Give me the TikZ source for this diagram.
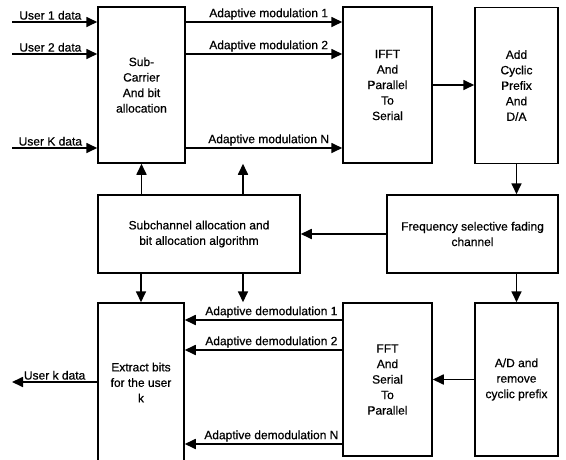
\documentclass[tikz,border=0pt]{standalone}
\usepackage{fontspec}
\setmainfont[FakeBold=0.6]{Liberation Sans}
\usetikzlibrary{arrows.meta,positioning}

\begin{document}
\begin{tikzpicture}[
    x=1pt, y=-1pt,
    font=\fontsize{12}{15.5}\selectfont,
    >={Triangle[length=11pt,width=10pt]},
    blockNode/.style={
        rectangle, draw, line width=1.5pt,
        inner sep=2pt, align=center
    },
    tallNode/.style={blockNode, minimum height=156pt},
    wideNode/.style={blockNode, minimum height=78pt},
    flow/.style={->, line width=1.7pt},
    tag/.style={above, inner sep=1.5pt}
]

% Page frame in pixels of the reference (y grows downwards).
\clip (0,0) rectangle (566,459);

\node[tallNode, minimum width=87pt] (SubCarrier) at (141.5,85)
  {Sub-\\Carrier\\And bit\\allocation};
\node[tallNode, minimum width=89pt] (IFFT) at (387.5,85)
  {IFFT\\And\\Parallel\\To\\Serial};
\node[tallNode, minimum width=83pt] (AddCP) at (516.5,85.5)
  {Add\\Cyclic\\Prefix\\And\\D/A};

\node[wideNode, minimum width=202pt] (Allocator) at (199,234)
  {Subchannel allocation and\\bit allocation algorithm};
\node[wideNode, minimum width=171pt] (Channel) at (472.5,234)
  {Frequency selective fading\\channel};

\node[tallNode, minimum width=86pt, minimum height=159pt] (Extract) at (141,382.5)
  {Extract bits\\for the user\\k};
\node[tallNode, minimum width=89pt, minimum height=153pt] (FFT) at (387.5,379.5)
  {FFT\\And\\Serial\\To\\Parallel};
\node[tallNode, minimum width=83pt, minimum height=153pt] (RemoveCP) at (516.5,379.5)
  {A/D and\\remove\\cyclic prefix};

\coordinate (UserOne) at (12,22);
\coordinate (UserTwo) at (12,54);
\coordinate (UserK) at (12,148);
\coordinate (UserOut) at (12,382);
\coordinate (DemodOne) at (0,320);
\coordinate (DemodTwo) at (0,350);
\coordinate (DemodN) at (0,444);
\coordinate (SideTap) at (243,0);

\draw[flow] (UserOne) -- (UserOne -| SubCarrier.west) node[tag, pos=0.45] {User 1 data};
\draw[flow] (UserTwo) -- (UserTwo -| SubCarrier.west) node[tag, pos=0.45] {User 2 data};
\draw[flow] (UserK) -- (UserK -| SubCarrier.west) node[tag, pos=0.45] {User K data};

\draw[flow] (SubCarrier.east |- UserOne) -- (IFFT.west |- UserOne)
  node[tag, pos=0.53] {Adaptive modulation 1};
\draw[flow] (SubCarrier.east |- UserTwo) -- (IFFT.west |- UserTwo)
  node[tag, pos=0.53] {Adaptive modulation 2};
\draw[flow] (SubCarrier.east |- UserK) -- (IFFT.west |- UserK)
  node[tag, pos=0.53] {Adaptive modulation N};

\draw[flow] (IFFT.east) -- (IFFT.east -| AddCP.west);
\draw[flow] (AddCP.south) -- (AddCP.south |- Channel.north);
\draw[flow] (Channel.west) -- (Channel.west -| Allocator.east);
\draw[flow] (Allocator.north -| SubCarrier) -- (SubCarrier.south);
\draw[flow] (Allocator.north -| SideTap) -- (SideTap |- SubCarrier.south);
\draw[flow] (Allocator.south -| Extract) -- (Extract.north);
\draw[flow] (Allocator.south -| SideTap) -- (SideTap |- Extract.north);
\draw[flow] (Channel.south -| RemoveCP) -- (RemoveCP.north);
\draw[flow] (RemoveCP.west) -- (RemoveCP.west -| FFT.east);

\draw[flow] (FFT.west |- DemodOne) -- (Extract.east |- DemodOne)
  node[tag, pos=0.45] {Adaptive demodulation 1};
\draw[flow] (FFT.west |- DemodTwo) -- (Extract.east |- DemodTwo)
  node[tag, pos=0.45] {Adaptive demodulation 2};
\draw[flow] (FFT.west |- DemodN) -- (Extract.east |- DemodN)
  node[tag, pos=0.45] {Adaptive demodulation N};
\draw[flow] (Extract.west |- UserOut) -- (UserOut) node[tag, midway] {User k data};

\end{tikzpicture}
\end{document}
